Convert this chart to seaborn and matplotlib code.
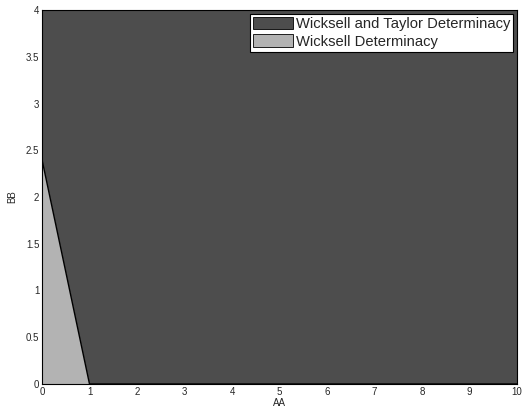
import matplotlib
matplotlib.use("Agg")
import matplotlib.pyplot as plt
import seaborn as sns
import numpy as np
import pandas as pd

# Data
aa_boundary = [0, 1, 10]
bb_boundary = [2.4, 0, 0]
bb_top = 4
series_labels = ["Wicksell and Taylor Determinacy", "Wicksell Determinacy"]
x_ticks = [0, 1, 2, 3, 4, 5, 6, 7, 8, 9, 10]
y_ticks = [0, 0.5, 1, 1.5, 2, 2.5, 3, 3.5, 4]

sns.set_style("ticks")
plt.rcParams['font.family'] = ['Liberation Sans', 'DejaVu Sans']

fig = plt.figure(figsize=(5.24, 4.11), dpi=100)
ax = fig.add_axes([42/524, 1-384/411, (517-42)/524, (384-10)/411])

df = pd.DataFrame({"AA": aa_boundary, "BB": bb_boundary})
dark = "#4d4d4d"
light = "#b3b3b3"
ax.fill_between(df["AA"], df["BB"], bb_top, facecolor=dark, edgecolor="none",
                label=series_labels[0])
ax.fill_between(df["AA"], 0, df["BB"], facecolor=light, edgecolor="none",
                label=series_labels[1])
sns.lineplot(data=df, x="AA", y="BB", color="black", linewidth=1.0, ax=ax, legend=False)

ax.set_xlim(0, 10)
ax.set_ylim(0, 4)
ax.set_xticks(x_ticks)
ax.set_yticks(y_ticks)
ax.set_xticklabels([f"{t:g}" for t in x_ticks])
ax.set_yticklabels([f"{t:g}" for t in y_ticks])
ax.tick_params(direction="in", labelsize=7, length=3, width=0.6, pad=2)
ax.set_xlabel("AA", fontsize=7, labelpad=1)
ax.set_ylabel("BB", fontsize=7, labelpad=6)
for s in ax.spines.values():
    s.set_linewidth(0.8)
    s.set_color("black")

from matplotlib.patches import Patch
handles = [Patch(facecolor=dark, edgecolor="black", linewidth=0.6),
           Patch(facecolor=light, edgecolor="black", linewidth=0.6)]
leg = ax.legend(handles, series_labels, loc="upper right", fontsize=10.6,
                frameon=True, fancybox=False, framealpha=1, edgecolor="black",
                borderpad=0.2, labelspacing=0.25, handlelength=2.7, handleheight=0.9,
                handletextpad=0.2, borderaxespad=0.25)
leg.get_frame().set_linewidth(0.8)

fig.savefig("out.png", dpi=100)
